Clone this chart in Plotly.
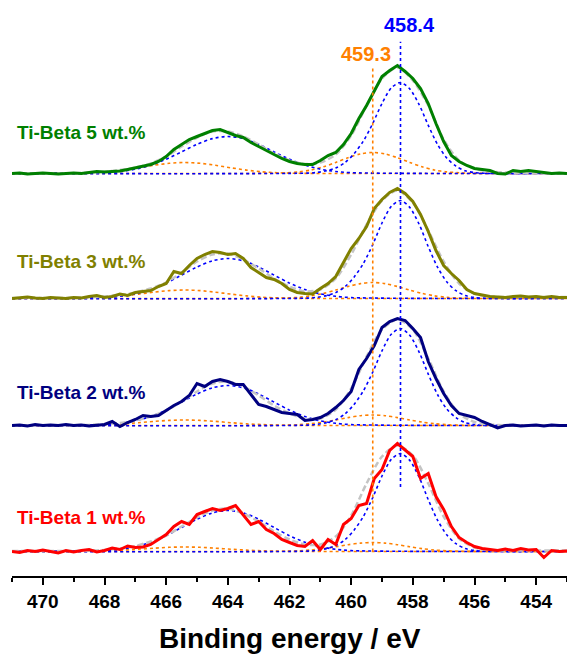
import plotly.graph_objects as go

# ---------------- data ----------------
SAMPLES = ["Ti-Beta 5 wt.%", "Ti-Beta 3 wt.%", "Ti-Beta 2 wt.%", "Ti-Beta 1 wt.%"]
COLORS = ["#008000", "#808000", "#000080", "#ff0000"]

ENERGY = [471.0, 470.75, 470.5, 470.25, 470.0, 469.75, 469.5, 469.25, 469.0, 468.75,
          468.5, 468.25, 468.0, 467.75, 467.5, 467.25, 467.0, 466.75, 466.5, 466.25,
          466.0, 465.75, 465.5, 465.25, 465.0, 464.75, 464.5, 464.25, 464.0, 463.75,
          463.5, 463.25, 463.0, 462.75, 462.5, 462.25, 462.0, 461.75, 461.5, 461.25,
          461.0, 460.75, 460.5, 460.25, 460.0, 459.75, 459.5, 459.25, 459.0, 458.75,
          458.5, 458.25, 458.0, 457.75, 457.5, 457.25, 457.0, 456.75, 456.5, 456.25,
          456.0, 455.75, 455.5, 455.25, 455.0, 454.75, 454.5, 454.25, 454.0, 453.75,
          453.5, 453.25, 453.0]

SPEC_5 = [0, 0.5, -0.5, 0, 0.5, 0, -0.5, 0, 0.5, 0,
          1, 2, 1.5, 2, 2.5, 4, 5.5, 7, 9, 12,
          17, 24, 29, 34, 37, 40, 43, 44, 41, 38,
          36, 31, 27, 23, 19, 15, 12, 10, 9, 9,
          13, 18, 21, 29, 40, 55, 68, 82, 97, 103,
          108, 102, 95, 85, 70, 50, 32, 18, 12, 8,
          5, 4, 3, 0, -0.5, 3, 2, 3, 2, 1,
          0, 0.5, 0]
SPEC_3 = [0, 0.5, 1.5, 0.5, 0, 1, 0.5, 0, 1, 0.5,
          2, 3, 1, 2, 4.5, 3, 6, 7, 8, 12,
          15, 27, 25, 33, 40, 44, 47, 46, 44, 45,
          40, 31, 26, 21, 19, 15, 9, 6, 5, 4.5,
          10, 15, 22, 36, 50, 60, 72, 90, 99, 106,
          110, 105, 97, 84, 67, 48, 33, 25, 18, 9,
          5, 3.5, 2, 1.5, 1, 2, 2.5, 1.5, 2, 1,
          2, 1, 1]
SPEC_2 = [0, 0.5, -0.5, 1, 0, 0.5, 0, 1, 0, 0.5,
          -0.5, 0, 1, 4, -1, 3, 6, 10, 9, 10,
          15, 20, 24, 30, 42, 39, 44, 46, 44, 41,
          41, 31, 21, 19, 16, 13, 12, 11, 5, 6,
          8, 12, 18, 25, 34, 56, 67, 80, 98, 104,
          107, 105, 97, 88, 64, 47, 32, 20, 12, 10,
          8, 4, 1, -2.5, 0, 0.5, -0.5, 0, 0.5, -0.5,
          0.5, 0, 0]
SPEC_1 = [0, -1, 1, 0, 1.5, 0, -1.5, 1, -0.5, 1,
          2, -0.5, 1, 3.5, 2, 5.5, 4, 4.5, 7, 12,
          17, 25, 30, 27, 37, 40, 43, 41, 43, 46,
          36, 27, 30, 22, 18, 12, 9, 6, 5, 11,
          2, 12, 7, 27, 33, 46, 48, 73, 82, 101,
          108, 101, 95, 73, 78, 55, 42, 25, 14, 9,
          5, 3, 2, 1, 2.5, 1, 3, 1.5, 2, -6,
          1, 0, 0.5]

# fitted envelope (grey)
ENV_X = [471.0, 470.5, 470.0, 469.5, 469.0, 468.5, 468.0, 467.5, 467.0, 466.5,
         466.0, 465.5, 465.0, 464.5, 464.0, 463.5, 463.0, 462.5, 462.0, 461.5,
         461.0, 460.5, 460.0, 459.5, 459.0, 458.5, 458.0, 457.5, 457.0, 456.5,
         456.0, 455.5, 455.0, 454.5, 454.0, 453.5, 453.0]
ENV_5 = [0, 0, 0, 0, 0.3, 0.8, 1.8, 3.5, 6, 10, 17, 27, 36, 42, 42, 37, 29, 20, 13, 9.5,
         11, 19, 38, 68, 95, 106, 93, 68, 34, 13, 5, 2, 1, 0.5, 0.3, 0, 0]
ENV_3 = [0.5, 0.5, 0.5, 0.5, 0.7, 1.2, 2, 3.5, 6, 10, 16, 26, 37, 44, 45, 39, 30, 20, 12, 7,
         9, 20, 44, 74, 98, 108, 96, 68, 37, 15, 5, 2, 1.5, 1.5, 1.5, 1.5, 1.5]
ENV_2 = [0.3, 0.3, 0.3, 0.3, 0.3, 0.6, 1.3, 2.5, 5, 9, 15, 24, 34, 42, 44, 39, 30, 20, 12, 7,
         7, 16, 37, 69, 96, 106, 96, 67, 34, 12, 3.5, 1, 0.3, 0.3, 0.3, 0.3, 0.3]
ENV_1 = [0.5, 0.5, 0.5, 0.5, 0.5, 0.8, 1.5, 3, 5.5, 10, 16, 25, 34, 41, 43, 38, 30, 20, 12, 7,
         7, 15, 36, 68, 95, 106, 96, 68, 35, 13, 4, 1.5, 1, 1, 1, 1, 1]

# Ti 2p3/2 (458.4) blue component
BM_X = [471.0, 461.4, 461.1, 460.8, 460.5, 460.2, 459.9, 459.6, 459.3, 459.0, 458.7, 458.4,
        458.1, 457.8, 457.5, 457.2, 456.9, 456.6, 456.3, 456.0, 455.7, 455.4, 453.0]
BM_5 = [0, 0.4, 1.1, 2.7, 5.5, 10.9, 20.0, 32.8, 50.1, 70.1, 85.5, 91,
        84.6, 69.2, 48.2, 29.1, 15.5, 7.3, 2.7, 0.9, 0.3, 0, 0]
BM_3 = [0, 0.4, 1.2, 2.9, 5.9, 11.8, 21.6, 35.3, 53.9, 75.5, 92.1, 98,
        91.1, 74.5, 51.9, 31.4, 16.7, 7.8, 2.9, 1.0, 0.3, 0, 0]
BM_2 = [0, 0.4, 1.2, 2.9, 5.8, 11.6, 21.3, 34.9, 53.4, 74.7, 91.2, 97,
        90.2, 73.7, 51.4, 31.0, 16.5, 7.8, 2.9, 1.0, 0.3, 0, 0]
BM_1 = [0, 0.4, 1.2, 2.9, 5.9, 11.8, 21.6, 35.3, 53.9, 75.5, 92.1, 98,
        91.1, 74.5, 51.9, 31.4, 16.7, 7.8, 2.9, 1.0, 0.3, 0, 0]

# Ti 2p1/2 blue component
BS_X = [471.0, 468.0, 467.5, 467.0, 466.5, 466.0, 465.5, 465.0, 464.5, 464.0,
        463.5, 463.0, 462.5, 462.0, 461.5, 461.0, 460.5, 460.0, 453.0]
BS_5 = [0, 0.8, 2.0, 4.3, 8.4, 14.3, 21.6, 29.2, 34.9, 37, 34.9, 29.2, 21.6, 14.3, 8.4, 4.3, 2.0, 0.8, 0]
BS_3 = [0, 0.9, 2.2, 4.7, 9.0, 15.4, 23.4, 31.5, 37.7, 40, 37.7, 31.5, 23.4, 15.4, 9.0, 4.7, 2.2, 0.9, 0]
BS_2 = [0, 0.9, 2.2, 4.7, 9.0, 15.4, 23.4, 31.5, 37.7, 40, 37.7, 31.5, 23.4, 15.4, 9.0, 4.7, 2.2, 0.9, 0]
BS_1 = [0, 0.9, 2.2, 4.8, 9.3, 15.8, 24.0, 32.3, 38.6, 41, 38.6, 32.3, 24.0, 15.8, 9.3, 4.8, 2.2, 0.9, 0]

# Ti 2p3/2 (459.3) orange component
OM_X = [471.0, 462.9, 462.5, 462.1, 461.7, 461.3, 460.9, 460.5, 460.1, 459.7, 459.3,
        458.9, 458.5, 458.1, 457.7, 457.3, 456.9, 456.5, 456.1, 455.7, 453.0]
OM_5 = [0, 0.1, 0.2, 0.7, 1.6, 3.5, 6.7, 11.1, 15.8, 19.6, 21, 19.6, 15.8, 11.1, 6.7, 3.5, 1.6, 0.7, 0.2, 0.1, 0]
OM_3 = [0, 0.0, 0.2, 0.5, 1.2, 2.7, 5.1, 8.4, 12.0, 14.9, 16, 14.9, 12.0, 8.4, 5.1, 2.7, 1.2, 0.5, 0.2, 0.0, 0]
OM_2 = [0, 0.0, 0.1, 0.3, 0.8, 1.8, 3.4, 5.5, 7.9, 9.8, 10.5, 9.8, 7.9, 5.5, 3.4, 1.8, 0.8, 0.3, 0.1, 0.0, 0]
OM_1 = [0, 0.0, 0.1, 0.3, 0.7, 1.5, 2.9, 4.7, 6.8, 8.4, 9, 8.4, 6.8, 4.7, 2.9, 1.5, 0.7, 0.3, 0.1, 0.0, 0]

# Ti 2p1/2 orange component
OS_X = [471.0, 469.4, 468.9, 468.4, 467.9, 467.4, 466.9, 466.4, 465.9, 465.4,
        464.9, 464.4, 463.9, 463.4, 462.9, 462.4, 461.9, 461.4, 453.0]
OS_5 = [0, 0.1, 0.3, 0.8, 1.7, 3.4, 5.7, 8.2, 10.2, 11, 10.2, 8.2, 5.7, 3.4, 1.7, 0.8, 0.3, 0.1, 0]
OS_3 = [0, 0.1, 0.2, 0.6, 1.3, 2.6, 4.4, 6.3, 7.9, 8.5, 7.9, 6.3, 4.4, 2.6, 1.3, 0.6, 0.2, 0.1, 0]
OS_2 = [0, 0.0, 0.1, 0.4, 0.9, 1.7, 2.8, 4.1, 5.1, 5.5, 5.1, 4.1, 2.8, 1.7, 0.9, 0.4, 0.1, 0.0, 0]
OS_1 = [0, 0.0, 0.1, 0.3, 0.7, 1.4, 2.3, 3.3, 4.2, 4.5, 4.2, 3.3, 2.3, 1.4, 0.7, 0.3, 0.1, 0.0, 0]

PEAK_POS = [458.4, 459.3]
PEAK_LABELS = ["458.4", "459.3"]
TICK_VALS = [470, 468, 466, 464, 462, 460, 458, 456, 454]
MINOR_TICK_VALS = [471, 469, 467, 465, 463, 461, 459, 457, 455, 453]

SPECTRA = [SPEC_5, SPEC_3, SPEC_2, SPEC_1]
ENVS = [ENV_5, ENV_3, ENV_2, ENV_1]
BMS = [BM_5, BM_3, BM_2, BM_1]
BSS = [BS_5, BS_3, BS_2, BS_1]
OMS = [OM_5, OM_3, OM_2, OM_1]
OSS = [OS_5, OS_3, OS_2, OS_1]

# ---------------- layout constants ----------------
OFFSETS = [402.5, 277.5, 150.5, 24.5]
LABEL_Y = [443.2, 314.3, 183.5, 58.5]
BLUE = "#0000ff"
ORANGE = "#ff8000"
FONT = "Liberation Sans, Arial, sans-serif"


def shift(vals, off):
    return [v + off for v in vals]


fig = go.Figure()
for i in range(4):
    off = OFFSETS[i]
    comp_sets = [(OS_X, OSS[i], ORANGE), (OM_X, OMS[i], ORANGE),
                 (BS_X, BSS[i], BLUE), (BM_X, BMS[i], BLUE)]
    for cx, cy, col in comp_sets:
        fig.add_trace(go.Scatter(x=cx, y=shift(cy, off), mode="lines",
                                 line=dict(color=col, width=1.6, dash="dot", shape="spline", smoothing=0.8),
                                 hoverinfo="skip", showlegend=False))
    fig.add_trace(go.Scatter(x=ENV_X, y=shift(ENVS[i], off), mode="lines",
                             line=dict(color="#c4c4c4", width=2.5, dash="6px,3px", shape="spline", smoothing=0.8),
                             hoverinfo="skip", showlegend=False))
    fig.add_trace(go.Scatter(x=ENERGY, y=shift(SPECTRA[i], off), mode="lines",
                             line=dict(color=COLORS[i], width=3),
                             name=SAMPLES[i], showlegend=False))
    fig.add_annotation(x=0.005, xref="paper", y=LABEL_Y[i], yref="y",
                       text=SAMPLES[i], showarrow=False, xanchor="left", yanchor="middle",
                       font=dict(family=FONT, size=19, color=COLORS[i], weight="bold"))

# reference lines at fitted peak positions
fig.add_shape(type="line", x0=PEAK_POS[0], x1=PEAK_POS[0], y0=89, y1=534.3, xref="x", yref="y",
              line=dict(color=BLUE, width=1.6, dash="dot"), layer="above")
fig.add_shape(type="line", x0=PEAK_POS[1], x1=PEAK_POS[1], y0=24.5, y1=508, xref="x", yref="y",
              line=dict(color=ORANGE, width=1.6, dash="dot"), layer="above")
fig.add_annotation(x=PEAK_POS[0], y=551.5, xref="x", yref="y", text=PEAK_LABELS[0], showarrow=False,
                   xshift=9, font=dict(family=FONT, size=20, color=BLUE, weight="bold"))
fig.add_annotation(x=PEAK_POS[1], y=522, xref="x", yref="y", text=PEAK_LABELS[1], showarrow=False,
                   xshift=-7, font=dict(family=FONT, size=20, color=ORANGE, weight="bold"))

fig.add_annotation(x=0.5, xref="paper", y=-62 / 576, yref="paper", text="Binding energy / eV",
                   showarrow=False, yanchor="middle",
                   font=dict(family=FONT, size=28, color="black", weight="bold"))

xcommon = dict(range=[471, 453], showgrid=False, zeroline=False,
               tickmode="array", tickvals=TICK_VALS, ticklen=7, tickwidth=2, tickcolor="black",
               minor=dict(tickmode="array", tickvals=MINOR_TICK_VALS,
                          ticklen=4, tickwidth=2, tickcolor="black"))
fig.update_layout(
    width=567, height=654,
    margin=dict(l=12, r=0, t=0, b=78),
    paper_bgcolor="white", plot_bgcolor="white",
    xaxis=dict(**xcommon, ticks="outside", showline=True, linecolor="black", linewidth=2,
               tickfont=dict(family=FONT, size=19, color="black", weight="bold")),
    xaxis2=dict(**xcommon, ticks="inside", overlaying="x", anchor="y", side="bottom",
                showline=False, showticklabels=False),
    yaxis=dict(range=[0, 576], visible=False),
    showlegend=False,
)
fig.layout.xaxis.minor.ticks = "outside"
fig.layout.xaxis2.minor.ticks = "inside"

fig.write_html("out.html", config={"displayModeBar": False},
               post_script="document.body.style.margin='0';document.body.style.overflow='hidden';")
